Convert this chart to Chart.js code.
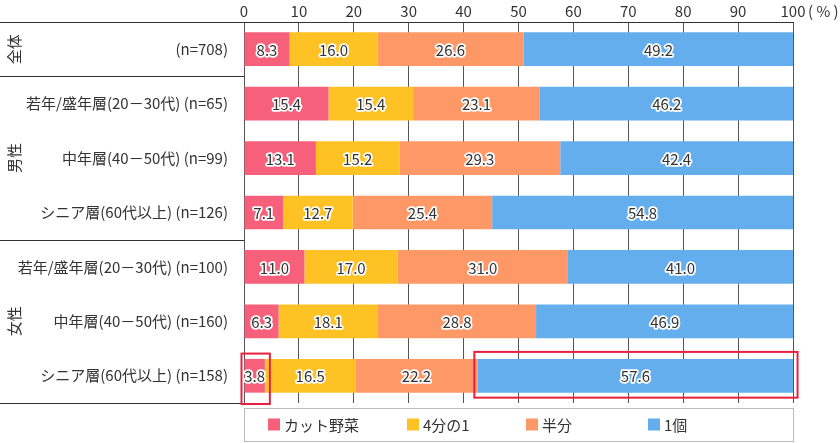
<!DOCTYPE html>
<html>
<head>
<meta charset="utf-8">
<script src="https://cdn.jsdelivr.net/npm/chart.js@4/dist/chart.umd.min.js"></script>
<style>
  html, body { margin: 0; padding: 0; background: #fff; }
  #wrap { width: 840px; height: 443px; }
</style>
</head>
<body>
<div id="wrap"><canvas id="vegChart"></canvas></div>
<script>
const rowLabels = [
  '(n=708)',
  '若年/盛年層(20－30代) (n=65)',
  '中年層(40－50代) (n=99)',
  'シニア層(60代以上) (n=126)',
  '若年/盛年層(20－30代) (n=100)',
  '中年層(40－50代) (n=160)',
  'シニア層(60代以上) (n=158)'
];
const groups = [
  { name: '全体', from: 0, to: 0 },
  { name: '男性', from: 1, to: 3 },
  { name: '女性', from: 4, to: 6 }
];
const seriesNames = ['カット野菜', '4分の1', '半分', '1個'];
const cutVeg  = [8.3, 15.4, 13.1, 7.1, 11.0, 6.3, 3.8];
const quarter = [16.0, 15.4, 15.2, 12.7, 17.0, 18.1, 16.5];
const half    = [26.6, 23.1, 29.3, 25.4, 31.0, 28.8, 22.2];
const whole   = [49.2, 46.2, 42.4, 54.8, 41.0, 46.9, 57.6];
const colors = ['#F6607B', '#FEC224', '#FE9866', '#64AEEE'];
// highlighted cells: [dataset, row]
const highlights = [[0, 6], [3, 6]];

const font = '"Noto Sans CJK JP", "Noto Sans", sans-serif';

// labels in bars, dark text with white outline
const barLabels = {
  id: 'barLabels',
  afterDatasetsDraw(chart) {
    const ctx = chart.ctx;
    ctx.save();
    ctx.font = '15px ' + font;
    ctx.textAlign = 'center';
    ctx.textBaseline = 'middle';
    ctx.lineJoin = 'round';
    chart.data.datasets.forEach((ds, i) => {
      chart.getDatasetMeta(i).data.forEach((bar, j) => {
        const txt = ds.data[j].toFixed(1);
        const x = (bar.x + bar.base) / 2;
        ctx.lineWidth = 3.5;
        ctx.strokeStyle = '#fff';
        ctx.strokeText(txt, x, bar.y + 1);
        ctx.fillStyle = '#333';
        ctx.fillText(txt, x, bar.y + 1);
      });
    });
    ctx.restore();
  }
};

// group separators, group names, (%) unit, highlight boxes, legend
const decorations = {
  id: 'decorations',
  afterDraw(chart) {
    const ctx = chart.ctx;
    const area = chart.chartArea;
    const y = chart.scales.y;
    const rowEdge = (i) => i <= 0 ? area.top : (i >= rowLabels.length ? area.bottom : (y.getPixelForValue(i - 1) + y.getPixelForValue(i)) / 2);
    ctx.save();

    // separators
    ctx.strokeStyle = '#333';
    ctx.lineWidth = 1;
    ctx.beginPath();
    ctx.moveTo(0, Math.round(area.top) + 0.5);
    ctx.lineTo(area.right, Math.round(area.top) + 0.5);
    groups.forEach(g => {
      const yy = Math.round(rowEdge(g.to + 1)) + 0.5;
      ctx.moveTo(0, yy);
      ctx.lineTo(area.left, yy);
    });
    ctx.stroke();

    // group names, rotated
    ctx.fillStyle = '#333';
    ctx.font = '15px ' + font;
    ctx.textAlign = 'center';
    ctx.textBaseline = 'middle';
    groups.forEach(g => {
      const cy = (y.getPixelForValue(g.from) + y.getPixelForValue(g.to)) / 2;
      ctx.save();
      ctx.translate(14, cy);
      ctx.rotate(-Math.PI / 2);
      ctx.fillText(g.name, 0, 0);
      ctx.restore();
    });

    // unit after 100
    ctx.font = '15px ' + font;
    ctx.textAlign = 'left';
    ctx.fillText('( % )', area.right + 15, 11);

    // highlight boxes
    ctx.strokeStyle = '#E8203F';
    ctx.lineWidth = 2;
    highlights.forEach(([d, r]) => {
      const bar = chart.getDatasetMeta(d).data[r];
      const l = Math.min(bar.x, bar.base), rr = Math.max(bar.x, bar.base);
      if (d === 0) {
        ctx.strokeRect(l - 3, rowEdge(r) + 5, rr - l + 8, rowEdge(r + 1) - rowEdge(r) - 4);
      } else {
        ctx.strokeRect(l - 3, bar.y - bar.height / 2 - 7, rr - l + 7, bar.height + 12);
      }
    });

    // legend box
    const top = area.bottom + 5, h = 33;
    ctx.strokeStyle = '#bbb';
    ctx.lineWidth = 1;
    ctx.strokeRect(Math.round(area.left) + 0.5, top + 0.5, Math.round(area.right - area.left), h);
    const offsets = [24, 163, 282, 404];
    ctx.font = '15px ' + font;
    ctx.textBaseline = 'middle';
    seriesNames.forEach((name, i) => {
      const x = area.left + offsets[i];
      ctx.fillStyle = colors[i];
      ctx.fillRect(x, top + h / 2 - 6, 12, 12);
      ctx.fillStyle = '#333';
      ctx.fillText(name, x + 16, top + h / 2 + 1);
    });
    ctx.restore();
  }
};

new Chart(document.getElementById('vegChart'), {
  type: 'bar',
  data: {
    labels: rowLabels,
    datasets: [cutVeg, quarter, half, whole].map((vals, i) => ({
      label: seriesNames[i],
      data: vals,
      backgroundColor: colors[i],
      borderWidth: 0,
      barPercentage: 0.62,
      categoryPercentage: 1
    }))
  },
  options: {
    indexAxis: 'y',
    responsive: true,
    maintainAspectRatio: false,
    animation: false,
    layout: { padding: { left: 0, right: 47, top: 0, bottom: 40 } },
    plugins: {
      legend: { display: false },
      tooltip: { enabled: false }
    },
    scales: {
      x: {
        position: 'top',
        stacked: true,
        min: 0,
        max: 100,
        ticks: { stepSize: 10, color: '#333', padding: 2, font: { family: font, size: 15 } },
        grid: { color: '#555', drawTicks: false },
        border: { color: '#333' }
      },
      y: {
        stacked: true,
        afterFit(scale) { scale.width = 244; },
        ticks: { color: '#333', padding: 8, font: { family: font, size: 15 } },
        grid: { display: false },
        border: { color: '#555' }
      }
    }
  },
  plugins: [barLabels, decorations]
});
</script>
</body>
</html>
